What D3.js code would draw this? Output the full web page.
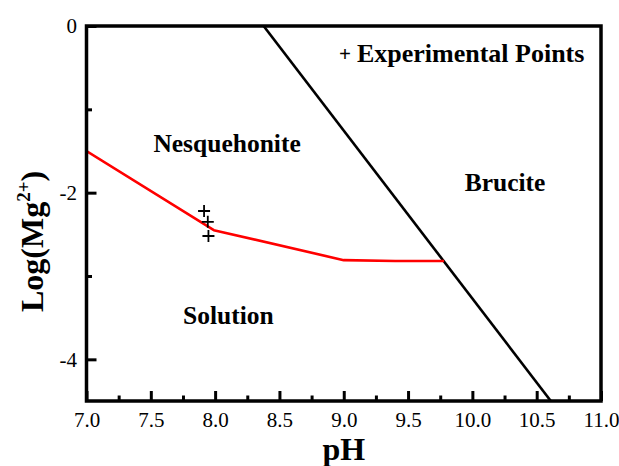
<!DOCTYPE html>
<html>
<head>
<meta charset="utf-8">
<script src="https://cdn.jsdelivr.net/npm/d3@7/dist/d3.min.js"></script>
<style>
  html, body { margin: 0; padding: 0; background: #fff; }
  svg { display: block; }
  text { font-family: "Liberation Serif", "Times New Roman", serif; fill: #000; }
</style>
</head>
<body>
<svg id="chart" width="619" height="466"></svg>
<script>
// Mg(2+) stability diagram: log activity vs pH
const xMajorTicks = [7.0, 7.5, 8.0, 8.5, 9.0, 9.5, 10.0, 10.5, 11.0];
const xMinorTicks = [7.25, 7.75, 8.25, 8.75, 9.25, 9.75, 10.25, 10.75];
const yMajorTicks = [0, -2, -4];
const yMinorTicks = [-1, -3];

// Nesquehonite / solution boundary (red)
const nesqPH  = [7.0, 7.99, 9.0, 9.4, 9.78];
const nesqLog = [-1.5, -2.45, -2.81, -2.82, -2.82];

// Brucite boundary (black)
const brucPH  = [8.377, 10.61];
const brucLog = [0, -4.5];

// Experimental points
const expPH  = [7.914, 7.943, 7.948];
const expLog = [-2.22, -2.35, -2.52];

// Region labels
const regionNames = ["Nesquehonite", "Solution", "Brucite"];
const regionPH    = [7.52, 7.75, 9.94];
const regionLog   = [-1.51, -3.57, -1.98];

const W = 619, H = 466;
const margin = { top: 26, right: 18, bottom: 65, left: 86.5 };
const innerW = W - margin.left - margin.right;
const innerH = H - margin.top - margin.bottom;

const svg = d3.select("#chart");
const g = svg.append("g").attr("transform", `translate(${margin.left},${margin.top})`);

const x = d3.scaleLinear().domain([7.0, 11.0]).range([0, innerW]);
const y = d3.scaleLinear().domain([-4.5, 0]).range([innerH, 0]);

g.append("clipPath").attr("id", "plot-clip")
  .append("rect").attr("width", innerW).attr("height", innerH);

const plot = g.append("g").attr("clip-path", "url(#plot-clip)");

// Brucite line
const bruc = brucPH.map((p, i) => [p, brucLog[i]]);
const line = d3.line().x(d => x(d[0])).y(d => y(d[1]));
plot.append("path").datum(bruc)
  .attr("d", line).attr("fill", "none")
  .attr("stroke", "#000").attr("stroke-width", 2.6);

// Nesquehonite line
const nesq = nesqPH.map((p, i) => [p, nesqLog[i]]);
plot.append("path").datum(nesq)
  .attr("d", line).attr("fill", "none")
  .attr("stroke", "#ff0000").attr("stroke-width", 2.6)
  .attr("stroke-linejoin", "round");

// Experimental "+" markers
const plusSize = 6;
g.selectAll(".exp").data(expPH.map((p, i) => [p, expLog[i]]))
  .enter().append("path").attr("class", "exp")
  .attr("d", d => {
    const cx = x(d[0]), cy = y(d[1]);
    return `M${cx - plusSize},${cy}H${cx + plusSize}M${cx},${cy - plusSize}V${cy + plusSize}`;
  })
  .attr("stroke", "#000").attr("stroke-width", 1.8).attr("fill", "none");

// Axes: ticks point inward
const xAxis = g.append("g").attr("transform", `translate(0,${innerH})`)
  .call(d3.axisBottom(x).tickValues(xMajorTicks).tickSize(-10).tickPadding(11)
    .tickFormat(d3.format(".1f")));
const xMinor = g.append("g").attr("transform", `translate(0,${innerH})`)
  .call(d3.axisBottom(x).tickValues(xMinorTicks).tickSize(-5.5).tickFormat(""));

const yAxis = g.append("g")
  .call(d3.axisLeft(y).tickValues(yMajorTicks).tickSize(-10).tickPadding(9.5)
    .tickFormat(d => String(d)));
const yMinor = g.append("g")
  .call(d3.axisLeft(y).tickValues(yMinorTicks).tickSize(-5.5).tickFormat(""));

[xAxis, xMinor, yAxis, yMinor].forEach(a => {
  a.attr("font-family", null).attr("font-size", null);
  a.select(".domain").remove();
  a.selectAll(".tick line").attr("stroke", "#000").attr("stroke-width", 3);
});
[xAxis, yAxis].forEach(a => {
  a.selectAll(".tick text")
    .attr("font-size", 21).attr("fill", "#000");
});

// Frame
g.append("rect").attr("width", innerW).attr("height", innerH)
  .attr("fill", "none").attr("stroke", "#000").attr("stroke-width", 3.5);

// Region labels
g.selectAll(".region").data(regionNames).enter().append("text")
  .attr("class", "region")
  .attr("x", (d, i) => x(regionPH[i]))
  .attr("y", (d, i) => y(regionLog[i]))
  .attr("font-size", 25.5).attr("font-weight", "bold")
  .text(d => d);

// Legend
const legend = g.append("g").attr("transform", `translate(${x(8.97)},${y(-0.435)})`);
legend.append("text").attr("x", -1).attr("y", -1).attr("font-size", 21).attr("font-weight", "bold")
  .text("+");
legend.append("text").attr("x", 17).attr("y", 0).attr("font-size", 26).attr("font-weight", "bold")
  .text("Experimental Points");

// Axis titles
svg.append("text")
  .attr("x", margin.left + innerW / 2).attr("y", 460)
  .attr("text-anchor", "middle").attr("font-size", 32).attr("font-weight", "bold")
  .text("pH");

const yTitle = svg.append("text")
  .attr("transform", "translate(43,312) rotate(-90)")
  .attr("font-size", 32).attr("font-weight", "bold");
yTitle.append("tspan").text("Log(Mg");
yTitle.append("tspan").attr("dy", -13).attr("font-size", 19).text("2+");
yTitle.append("tspan").attr("dy", 13).text(")");
</script>
</body>
</html>
